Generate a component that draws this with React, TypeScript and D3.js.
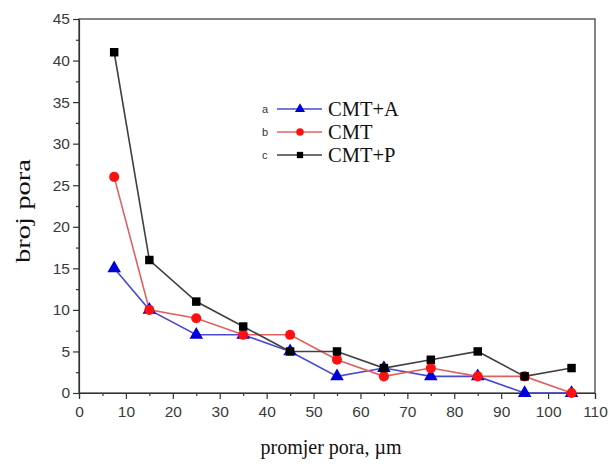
import React, { useRef, useEffect } from 'react';
import * as d3 from 'd3';

const xValues = [7.5, 15, 25, 35, 45, 55, 65, 75, 85, 95, 105];
const cmtA = [15, 10, 7, 7, 5, 2, 3, 2, 2, 0, 0];
const cmt = [26, 10, 9, 7, 7, 4, 2, 3, 2, 2, 0];
const cmtP = [41, 16, 11, 8, 5, 5, 3, 4, 5, 2, 3];
const xTicks = [0, 10, 20, 30, 40, 50, 60, 70, 80, 90, 100, 110];
const yTicks = [0, 5, 10, 15, 20, 25, 30, 35, 40, 45];

const series = [
  { key: 'a', name: 'CMT+A', values: cmtA, line: '#4a4ad0', fill: '#0000dd', shape: 'triangle' },
  { key: 'b', name: 'CMT', values: cmt, line: '#e06060', fill: '#ff1010', shape: 'circle' },
  { key: 'c', name: 'CMT+P', values: cmtP, line: '#404040', fill: '#000000', shape: 'square' },
];

const W = 609;
const H = 464;
const L = 79, R = 595, T = 19, B = 393;

const App = () => {
  const svgRef = useRef<SVGSVGElement>(null);

  useEffect(() => {
    const x = d3.scaleLinear().domain([0, 110]).range([L, R]);
    const y = d3.scaleLinear().domain([0, 45]).range([B, T]);

    const svg = d3.select(svgRef.current).html('');
    const sym = (shape: string, scale = 1) => {
      const t = shape === 'triangle' ? d3.symbolTriangle : shape === 'circle' ? d3.symbolCircle : d3.symbolSquare;
      const size = shape === 'triangle' ? 80 : shape === 'circle' ? 80 : 72;
      return d3.symbol().type(t).size(size * scale)();
    };

    // frame
    svg.append('rect')
      .attr('x', L).attr('y', T).attr('width', R - L).attr('height', B - T)
      .attr('fill', 'none').attr('stroke', '#333').attr('stroke-width', 1.2);

    // axes
    const tickFont = 'Liberation Sans, Arial, sans-serif';
    const xAxis = svg.append('g').attr('transform', `translate(0,${B})`)
      .call(d3.axisBottom(x).tickValues(xTicks).tickSize(6).tickPadding(7));
    svg.append('g').attr('transform', `translate(0,${B})`)
      .call(d3.axisBottom(x).tickValues(d3.range(5, 110, 10)).tickSize(3).tickFormat(() => ''))
      .select('.domain').remove();
    const yAxis = svg.append('g').attr('transform', `translate(${L},0)`)
      .call(d3.axisLeft(y).tickValues(yTicks).tickSize(6).tickPadding(3));
    svg.append('g').attr('transform', `translate(${L},0)`)
      .call(d3.axisLeft(y).tickValues(d3.range(2.5, 45, 5)).tickSize(3).tickFormat(() => ''))
      .select('.domain').remove();
    svg.selectAll('.domain').attr('stroke', '#333').attr('stroke-width', 1.2);
    svg.selectAll('.tick line').attr('stroke', '#333').attr('stroke-width', 1.2);
    [xAxis, yAxis].forEach(a => a.selectAll('text')
      .attr('font-family', tickFont).attr('font-size', 15.5).attr('fill', '#3a3a3a'));

    // lines and markers
    series.forEach(s => {
      const pts = xValues.map((v, i) => [v, s.values[i]] as [number, number]);
      svg.append('path')
        .attr('d', d3.line<[number, number]>().x(d => x(d[0])).y(d => y(d[1]))(pts))
        .attr('fill', 'none').attr('stroke', s.line).attr('stroke-width', 1.6);
    });
    series.forEach(s => {
      svg.selectAll(null)
        .data(xValues.map((v, i) => [v, s.values[i]]))
        .enter().append('path')
        .attr('d', sym(s.shape))
        .attr('transform', d => `translate(${x(d[0])},${y(d[1])})`)
        .attr('fill', s.fill);
    });

    // legend
    const lg = svg.append('g').attr('transform', 'translate(262,109)');
    series.forEach((s, i) => {
      const g = lg.append('g').attr('transform', `translate(0,${i * 23})`);
      g.append('text').attr('x', 0).attr('y', 4).text(s.key)
        .attr('font-family', tickFont).attr('font-size', 11).attr('fill', '#333');
      g.append('line').attr('x1', 15).attr('x2', 60).attr('y1', 0).attr('y2', 0)
        .attr('stroke', s.line).attr('stroke-width', 1.6);
      g.append('path').attr('d', sym(s.shape, 0.55)).attr('transform', 'translate(38,0)').attr('fill', s.fill);
      g.append('text').attr('x', 66).attr('y', 7).text(s.name)
        .attr('font-family', 'Liberation Serif, Times New Roman, serif').attr('font-size', 20.5).attr('fill', '#111');
    });

    // titles
    svg.append('text')
      .attr('transform', `translate(30,211) rotate(-90)`)
      .attr('text-anchor', 'middle')
      .attr('font-family', 'Liberation Serif, Times New Roman, serif').attr('font-size', 22)
      .attr('textLength', 104).attr('lengthAdjust', 'spacingAndGlyphs')
      .attr('fill', '#111').text('broj pora');
    svg.append('text')
      .attr('x', 331).attr('y', 454)
      .attr('text-anchor', 'middle')
      .attr('font-family', 'Liberation Serif, Times New Roman, serif').attr('font-size', 20)
      .attr('fill', '#111').text('promjer pora, µm');
  }, []);

  return (
    <svg ref={svgRef} width={W} height={H}
      style={{ position: 'absolute', left: 0, top: 0, background: '#fff' }} />
  );
};

export default App;
